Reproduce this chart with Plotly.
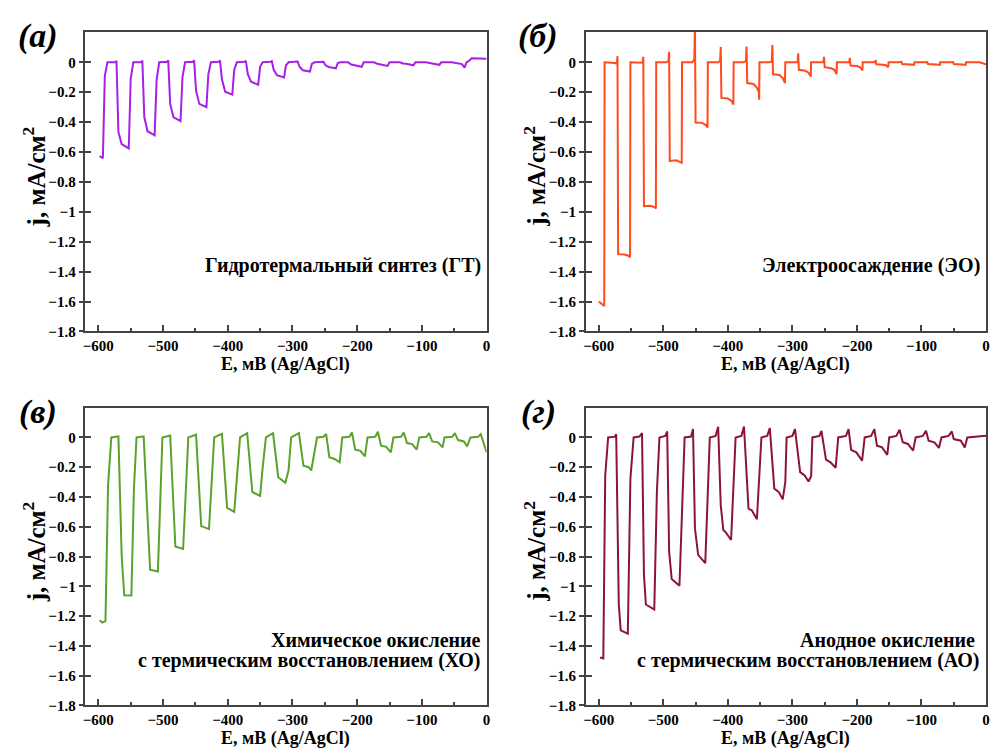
import plotly.graph_objects as go

# ---------------- data (E, mV vs Ag/AgCl ; j, mA/cm2) ----------------
GT_E = [-598, -593, -590, -586, -574, -572, -569, -564, -553,
        -550, -546, -534, -532, -529, -524, -513,
        -510, -506, -494, -492, -489, -484, -473,
        -470, -466, -454, -452, -449, -444, -433,
        -430, -426, -414, -412, -409, -404, -393,
        -390, -386, -374, -372, -369, -364, -353,
        -350, -346, -334, -332, -329, -324, -313,
        -310, -306, -294, -292, -289, -284, -273,
        -270, -266, -254, -252, -249, -244, -233,
        -230, -226, -214, -209, -204, -193,
        -190, -174, -169, -164, -153,
        -150, -134, -129, -124, -113,
        -110, -94, -89, -84, -73,
        -70, -54, -49, -44, -38, -34,
        -31, -27, -23, 0]
GT_J = [-0.627, -0.642, -0.09, 0.0, 0.0, 0.01, -0.466, -0.547, -0.576,
        -0.11, 0.0, 0.0, 0.012, -0.366, -0.461, -0.488,
        -0.12, 0.0, 0.003, 0.013, -0.278, -0.366, -0.393,
        -0.10, 0.0, 0.003, 0.013, -0.19, -0.278, -0.30,
        -0.08, 0.0, 0.003, 0.013, -0.113, -0.197, -0.216,
        -0.05, 0.0, 0.003, 0.01, -0.08, -0.13, -0.15,
        -0.03, 0.0, 0.003, 0.008, -0.05, -0.086, -0.101,
        -0.02, 0.0, 0.002, 0.005, -0.03, -0.053, -0.062,
        -0.01, 0.0, 0.002, 0.003, -0.02, -0.031, -0.04,
        -0.005, 0.0, 0.0, -0.015, -0.02, -0.03,
        0.0, 0.0, -0.01, -0.013, -0.024,
        0.0, 0.0, -0.008, -0.01, -0.02,
        0.0, 0.0, -0.006, -0.008, -0.017,
        0.0, 0.0, -0.005, -0.007, -0.012, -0.035,
        0.0, 0.01, 0.027, 0.024]

EO_E = [-600, -595, -591.5, -591, -588, -575, -572, -571, -570,
        -560, -553, -551.5, -551, -535, -532, -531, -530,
        -520, -513, -511.5, -511, -495, -492, -491, -490,
        -480, -473, -471.5, -471, -455, -452, -451, -450,
        -440, -434, -431.5, -431, -415, -412, -411, -410,
        -400, -394, -391.5, -391, -375, -372, -371, -370,
        -360, -355, -352, -351.5, -351, -335, -332, -331, -330,
        -320, -315, -311.5, -311, -295, -292, -291, -290,
        -280, -275, -271.5, -271, -255, -252, -251, -250,
        -240, -235, -231.5, -231, -215, -212, -211, -210,
        -200, -195, -191.5, -191, -175, -172, -171, -170,
        -160, -155, -151.5, -151, -135, -131, -130,
        -112, -111.5, -111, -95, -91, -90,
        -72, -71.5, -71, -55, -51, -50,
        -32, -31.5, -31, -10, -5, 0]
EO_J = [-1.60, -1.62, -1.63, 0.0, 0.0, -0.005, -0.01, 0.041, -1.283,
        -1.285, -1.295, -1.305, 0.0, 0.0, -0.003, 0.037, -0.963,
        -0.96, -0.97, -0.978, 0.0, 0.0, 0.01, 0.07, -0.66,
        -0.655, -0.665, -0.672, 0.0, 0.0, 0.02, 0.25, -0.403,
        -0.405, -0.42, -0.436, 0.0, 0.0, 0.01, 0.103, -0.238,
        -0.242, -0.26, -0.282, 0.0, 0.0, 0.01, 0.105, -0.139,
        -0.145, -0.17, -0.20, -0.25, 0.0, 0.0, 0.005, 0.115, -0.08,
        -0.085, -0.105, -0.139, 0.0, 0.0, 0.003, 0.06, -0.05,
        -0.056, -0.07, -0.095, 0.0, 0.0, 0.002, 0.037, -0.033,
        -0.04, -0.05, -0.08, 0.0, 0.0, 0.0, 0.03, -0.022,
        -0.025, -0.033, -0.055, 0.0, 0.0, 0.0, 0.015, -0.013,
        -0.016, -0.02, -0.033, 0.0, 0.0, 0.003, -0.011,
        -0.016, -0.022, 0.0, 0.0, 0.002, -0.011,
        -0.016, -0.022, 0.0, 0.0, 0.002, -0.011,
        -0.016, -0.022, 0.0, 0.0, -0.005, -0.014]

XO_E = [-598, -594, -589, -585, -580, -569,
        -564, -560, -549, -545, -541, -530,
        -520, -508, -501, -489,
        -481, -469, -461, -449,
        -441, -429, -421, -409,
        -401, -390, -381, -370,
        -362, -350, -346, -341, -330,
        -322, -311, -306, -302, -290,
        -283, -275, -271, -262, -252, -248,
        -243, -235, -227, -223, -212, -208,
        -203, -195, -188, -184, -172, -168,
        -163, -155, -148, -144, -132, -128,
        -123, -115, -108, -104, -93, -89,
        -84, -75, -68, -65, -53, -49,
        -44, -35, -30, -25, -13, -9, 0]
XO_J = [-1.227, -1.244, -1.233, -0.322, 0.0, 0.007,
        -0.789, -1.06, -1.062, -0.344, 0.0, 0.007,
        -0.889, -0.9, 0.0, 0.013,
        -0.733, -0.749, 0.0, 0.018,
        -0.596, -0.616, 0.0, 0.024,
        -0.473, -0.5, 0.0, 0.028,
        -0.367, -0.393, -0.2, 0.0, 0.029,
        -0.267, -0.304, -0.22, 0.0, 0.029,
        -0.19, -0.2, -0.222, 0.0, 0.005, 0.024,
        -0.133, -0.145, -0.167, 0.0, 0.004, 0.033,
        -0.082, -0.09, -0.127, 0.0, 0.004, 0.038,
        -0.056, -0.063, -0.1, 0.0, 0.004, 0.033,
        -0.038, -0.045, -0.082, 0.0, 0.004, 0.029,
        -0.027, -0.033, -0.067, 0.0, 0.004, 0.029,
        -0.018, -0.027, -0.06, 0.0, 0.004, 0.022, -0.1]

AO_E = [-598, -593, -590, -585.5, -575, -573,
        -569, -566, -555, -551, -546, -537, -533,
        -530, -527, -514, -510, -506, -497, -494,
        -491, -487, -475, -471, -467, -457, -454,
        -451, -446, -435, -428, -419, -415,
        -411, -407, -404, -395, -388, -379, -375,
        -368, -363, -355, -348, -339, -335,
        -328, -321, -315, -311, -309, -300, -296,
        -288, -281, -275, -271, -269, -258, -255,
        -248, -241, -233, -229, -217, -213,
        -209, -201, -192, -188, -178, -173,
        -169, -161, -153, -150, -139, -134,
        -129, -121, -113, -109, -98, -93,
        -89, -80, -73, -69, -58, -53,
        -50, -39, -33, -29, 0]
AO_J = [-1.478, -1.484, -0.256, 0.0, 0.005, 0.022,
        -1.122, -1.296, -1.318, -0.278, 0.0, 0.006, 0.029,
        -0.922, -1.122, -1.156, -0.37, 0.0, 0.01, 0.04,
        -0.767, -0.951, -0.996, -0.5, 0.0, 0.006, 0.056,
        -0.611, -0.789, -0.844, 0.0, 0.01, 0.071,
        -0.456, -0.622, -0.633, -0.689, 0.0, 0.01, 0.073,
        -0.478, -0.489, -0.549, 0.0, 0.01, 0.062,
        -0.344, -0.367, -0.416, -0.3, 0.0, 0.01, 0.056,
        -0.233, -0.256, -0.296, -0.26, 0.0, 0.01, 0.044,
        -0.149, -0.167, -0.204, 0.0, 0.01, 0.056,
        -0.084, -0.1, -0.156, 0.0, 0.01, 0.056,
        -0.056, -0.067, -0.118, 0.0, 0.01, 0.051,
        -0.033, -0.044, -0.089, 0.0, 0.01, 0.044,
        -0.022, -0.033, -0.071, 0.0, 0.01, 0.04,
        -0.011, -0.022, -0.067, 0.0, 0.011]

Y_TICKS = [0, -0.2, -0.4, -0.6, -0.8, -1, -1.2, -1.4, -1.6, -1.8]
X_TICKS = [-600, -500, -400, -300, -200, -100, 0]

PANEL_LABELS = ["(а)", "(б)", "(в)", "(г)"]
SAMPLE_NAMES = [["Гидротермальный синтез (ГТ)"],
                ["Электроосаждение (ЭО)"],
                ["Химическое окисление", "с термическим восстановлением (ХО)"],
                ["Анодное окисление", "с термическим восстановлением (АО)"]]
X_TITLE = "E, мВ (Ag/AgCl)"
Y_TITLE = "j, мА/см<sup>2</sup>"

# ---------------- figure ----------------
W, H = 994, 755
FONT = "Liberation Serif"
AX = "#444444"

series = [(GT_E, GT_J, "#a620e6"), (EO_E, EO_J, "#ff4a1c"),
          (XO_E, XO_J, "#5ba22c"), (AO_E, AO_J, "#8c1536")]

# plot areas in pixels: (left, right, top, bottom)
boxes = [(83, 487, 32, 335), (587, 990, 32, 335),
         (83, 487, 412, 713), (587, 990, 412, 713)]

fig = go.Figure()
layout = dict(width=W, height=H, margin=dict(l=0, r=0, t=0, b=0),
              plot_bgcolor="white", paper_bgcolor="white", showlegend=False,
              font=dict(family=FONT, color="black"))

tickfont = dict(family=FONT, size=15, color="black", weight=700)
annotations = []

for i, ((xs, ys, col), (l, r, t, b)) in enumerate(zip(series, boxes)):
    n = i + 1
    xa = "x" if n == 1 else f"x{n}"
    ya = "y" if n == 1 else f"y{n}"
    yo = f"y{n + 4}"
    fig.add_trace(go.Scatter(x=xs, y=ys, mode="lines", xaxis=xa, yaxis=ya,
                             line=dict(color=col, width=2), hoverinfo="skip"))
    fig.add_trace(go.Scatter(x=[], y=[], mode="lines", xaxis=xa, yaxis=yo,
                             hoverinfo="skip"))
    xdom = [l / W, r / W]
    ydom = [1 - b / H, 1 - t / H]
    yr = [-1.8, 0.205] if n <= 2 else [-1.8, 0.2]
    layout["xaxis" if n == 1 else f"xaxis{n}"] = dict(
        domain=xdom, anchor=ya, range=[-620, 0],
        tickmode="array", tickvals=X_TICKS,
        ticks="inside", ticklen=7, tickwidth=1.5, tickcolor=AX,
        showline=True, linecolor=AX, linewidth=1.5, mirror=True,
        showgrid=False, zeroline=False, tickfont=tickfont,
        ticklabeloverflow="allow",
        minor=dict(tick0=0, dtick=50, ticks="inside", ticklen=4,
                   tickwidth=1.5, tickcolor=AX, showgrid=False))
    layout["yaxis" if n == 1 else f"yaxis{n}"] = dict(
        domain=ydom, anchor=xa, range=yr,
        tickmode="array", tickvals=Y_TICKS,
        ticks="outside", ticklen=5, tickwidth=1.5, tickcolor=AX,
        showline=True, linecolor=AX, linewidth=1.5, mirror=True,
        showgrid=False, zeroline=False, tickfont=tickfont)
    layout[f"yaxis{n + 4}"] = dict(
        overlaying=ya, anchor=xa, side="left", range=yr,
        tickmode="array", tickvals=Y_TICKS,
        ticks="inside", ticklen=6, tickwidth=1.5, tickcolor=AX,
        showticklabels=False, showline=False, showgrid=False, zeroline=False)

    cx = (l + r) / 2
    annotations.append(dict(
        x=(l - 48) / W, y=1 - (t + 4) / H, xref="paper", yref="paper",
        text=PANEL_LABELS[i], showarrow=False, xanchor="center", yanchor="middle",
        font=dict(family=FONT, size=34, color="black", weight=700, style="italic")))
    annotations.append(dict(
        x=cx / W, y=1 - (b + 33) / H, xref="paper", yref="paper",
        text=X_TITLE, showarrow=False, xanchor="center", yanchor="middle",
        font=dict(family=FONT, size=18, color="black", weight=700)))
    annotations.append(dict(
        x=(l - 52) / W, y=1 - ((t + b) / 2 - 5) / H, xref="paper", yref="paper",
        text=Y_TITLE, showarrow=False, textangle=-90,
        xanchor="center", yanchor="middle",
        font=dict(family=FONT, size=25, color="black", weight=700)))
    lines = SAMPLE_NAMES[i]
    ys_txt = [b - 67] if len(lines) == 1 else [b - 66, b - 45]
    for k, (txt, yy) in enumerate(zip(lines, ys_txt)):
        rx = r - 4
        if i == 3 and k == 0:
            rx = r - 9
        annotations.append(dict(
            x=rx / W, y=1 - yy / H, xref="paper", yref="paper",
            text=txt, showarrow=False, xanchor="right", yanchor="middle",
            font=dict(family=FONT, size=20, color="black", weight=700)))

layout["annotations"] = annotations
fig.update_layout(**layout)
fig.write_html("out.html", config={"displayModeBar": False},
               post_script="document.body.style.margin='0';document.body.style.padding='0';")
